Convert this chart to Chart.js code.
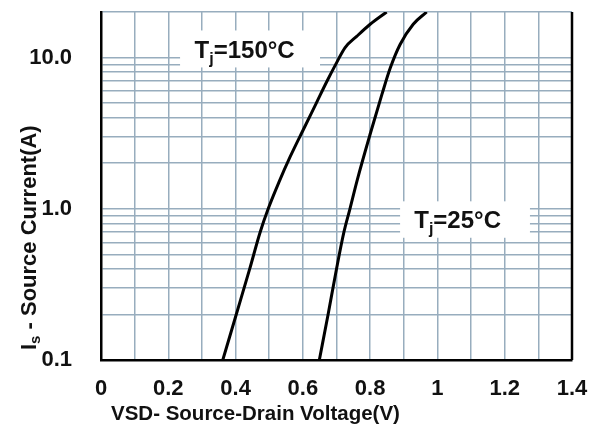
<!DOCTYPE html>
<html>
<head>
<meta charset="utf-8">
<title>Source-Drain Diode Forward Voltage</title>
<script src="https://cdn.jsdelivr.net/npm/chart.js@4.4.1/dist/chart.umd.min.js"></script>
<style>
  html, body { margin: 0; padding: 0; background: #fff; }
  #wrap { width: 598px; height: 428px; }
</style>
</head>
<body>
<div id="wrap"><canvas id="chart-vsd" width="598" height="428"></canvas></div>
<script>
// Tj = 150°C curve (V, A)
const vsd150 = [0.362, 0.402, 0.442, 0.473, 0.497, 0.529, 0.562, 0.606, 0.640, 0.672, 0.702, 0.725, 0.760, 0.800, 0.849];
const is150  = [0.1,   0.2,   0.4,   0.7,   1.0,   1.5,   2.2,   3.5,   5.0,   7.0,   9.4,   11.6,  13.8,  16.6,  20];

// Tj = 25°C curve
const vsd25 = [0.649, 0.675, 0.700, 0.722, 0.740, 0.762, 0.801, 0.835, 0.860, 0.889, 0.928, 0.968];
const is25  = [0.1,   0.2,   0.4,   0.7,   1.0,   1.56,  3.17,  5.7,   8.55,  12.2,  16.6,  20];

// axis ticks
const xTickLabels = ['0', '0.2', '0.4', '0.6', '0.8', '1', '1.2', '1.4'];
const yTicks = [0.1, 0.2, 0.3, 0.4, 0.5, 0.6, 0.7, 0.8, 0.9,
                1, 2, 3, 4, 5, 6, 7, 8, 9, 10, 20];
const yTickLabels = { 0.1: '0.1', 1: '1.0', 10: '10.0' };

(function() {
  'use strict';

  const CONFIG = {
    font: '"Liberation Sans", Arial, sans-serif',
    grid: '#98adbe',
    ink: '#111111'
  };

  function points(xs, ys) {
    return xs.map((x, i) => ({ x: x, y: ys[i] }));
  }

  // temperature tags: white box (data units) + text anchor
  const tags = [
    { main: 'T', sub: 'j', rest: '=150\u00B0C', box: [0.235, 0.651, 8.6, 15.1], x: 0.427, y: 10 },
    { main: 'T', sub: 'j', rest: '=25\u00B0C',  box: [0.889, 1.275, 0.643, 1.12], x: 1.06, y: 0.748 }
  ];

  // right frame line, tags and axis titles
  const decorations = {
    id: 'decorations',
    afterDraw(chart) {
      const ctx = chart.ctx;
      const area = chart.chartArea;
      const xs = chart.scales.x;
      const ys = chart.scales.y;
      ctx.save();

      ctx.strokeStyle = '#000';
      ctx.lineWidth = 2.5;
      ctx.beginPath();
      ctx.moveTo(area.right, area.top);
      ctx.lineTo(area.right, area.bottom);
      ctx.stroke();

      tags.forEach(t => {
        const l = xs.getPixelForValue(t.box[0]);
        const r = xs.getPixelForValue(t.box[1]);
        const b = ys.getPixelForValue(t.box[2]);
        const tp = ys.getPixelForValue(t.box[3]);
        ctx.fillStyle = '#fff';
        ctx.fillRect(l, tp, r - l, b - tp);

        const big = 'bold 24px ' + CONFIG.font;
        const small = 'bold 16px ' + CONFIG.font;
        ctx.font = big;
        const w1 = ctx.measureText(t.main).width;
        const w3 = ctx.measureText(t.rest).width;
        ctx.font = small;
        const w2 = ctx.measureText(t.sub).width;
        let cx = xs.getPixelForValue(t.x) - (w1 + w2 + w3) / 2;
        const cy = ys.getPixelForValue(t.y);
        ctx.fillStyle = CONFIG.ink;
        ctx.textBaseline = 'alphabetic';
        ctx.textAlign = 'left';
        ctx.font = big;
        ctx.fillText(t.main, cx, cy);
        cx += w1;
        ctx.font = small;
        ctx.fillText(t.sub, cx, cy + 6);
        cx += w2;
        ctx.font = big;
        ctx.fillText(t.rest, cx, cy);
      });

      // x title
      ctx.fillStyle = CONFIG.ink;
      ctx.font = 'bold 20.5px ' + CONFIG.font;
      ctx.textAlign = 'left';
      ctx.textBaseline = 'alphabetic';
      ctx.fillText('VSD- Source-Drain Voltage(V)', area.left + 10, area.bottom + 60);

      // y title (rotated, with subscript)
      ctx.translate(36, area.bottom - 10);
      ctx.rotate(-Math.PI / 2);
      ctx.font = 'bold 22px ' + CONFIG.font;
      ctx.fillText('I', 0, 0);
      let px = ctx.measureText('I').width;
      ctx.font = 'bold 15px ' + CONFIG.font;
      ctx.fillText('s', px, 4);
      px += ctx.measureText('s').width;
      ctx.font = 'bold 22px ' + CONFIG.font;
      ctx.fillText(' - Source Current(A)', px, 0);

      ctx.restore();
    }
  };

  function curve(label, xs, ys) {
    return {
      label: label,
      data: points(xs, ys),
      borderColor: '#000',
      backgroundColor: 'transparent',
      borderWidth: 3,
      pointRadius: 0,
      cubicInterpolationMode: 'monotone'
    };
  }

  function init() {
    if (typeof Chart === 'undefined') {
      console.error('Chart.js not loaded');
      return;
    }
    const ctx = document.getElementById('chart-vsd');

    new Chart(ctx, {
      type: 'line',
      data: {
        datasets: [
          curve('Tj=150°C', vsd150, is150),
          curve('Tj=25°C', vsd25, is25)
        ]
      },
      options: {
        responsive: false,
        animation: false,
        events: [],
        layout: { padding: { left: 0, right: 26, top: 12, bottom: 0 } },
        plugins: {
          legend: { display: false },
          tooltip: { enabled: false }
        },
        scales: {
          x: {
            type: 'linear',
            min: 0,
            max: 1.4,
            afterFit(scale) {
              scale.height = 68;
              scale.paddingLeft = 0;
              scale.paddingRight = 0;
            },
            grid: { color: CONFIG.grid, lineWidth: 1.5, drawTicks: false },
            border: { color: '#000', width: 2.5 },
            ticks: {
              stepSize: 0.1,
              autoSkip: false,
              maxRotation: 0,
              padding: 16,
              color: CONFIG.ink,
              font: { family: CONFIG.font, size: 22, weight: 'bold' },
              callback(value, index) {
                return index % 2 === 0 ? xTickLabels[index / 2] : '';
              }
            }
          },
          y: {
            type: 'logarithmic',
            min: 0.1,
            max: 20,
            afterFit(scale) {
              scale.width = 101;
              scale.paddingTop = 0;
              scale.paddingBottom = 0;
            },
            afterBuildTicks(scale) {
              scale.ticks = yTicks.map(v => ({ value: v }));
            },
            grid: { color: CONFIG.grid, lineWidth: 1.5, drawTicks: false },
            border: { color: '#000', width: 2.5 },
            ticks: {
              autoSkip: false,
              padding: 29,
              color: CONFIG.ink,
              font: { family: CONFIG.font, size: 22, weight: 'bold' },
              callback(value) {
                return yTickLabels[value] || '';
              }
            }
          }
        }
      },
      plugins: [decorations]
    });
  }

  if (document.readyState === 'loading') {
    document.addEventListener('DOMContentLoaded', init);
  } else {
    init();
  }
})();
</script>
</body>
</html>
